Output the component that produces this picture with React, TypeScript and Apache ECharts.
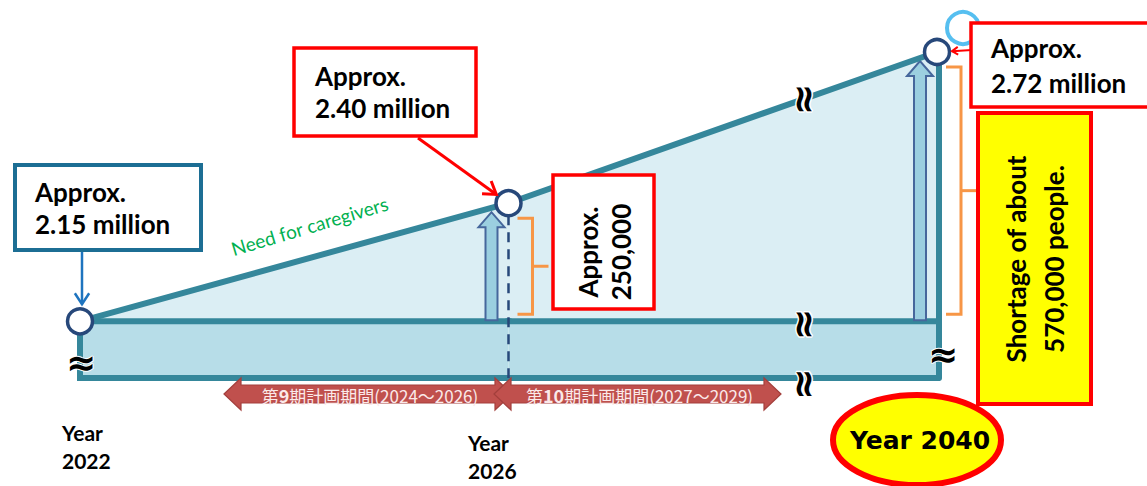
import React, { useEffect, useRef } from 'react';
import * as echarts from 'echarts';

// ---------------- data ----------------
const years = ['2022', '2026', '2040'];
const need = [215, 240, 272]; // need for caregivers (10,000 people)
const supply = [215, 215, 215]; // caregivers kept at the 2022 level
const needLabels = ['Approx.\n2.15 million', 'Approx.\n2.40 million', 'Approx.\n2.72 million'];
const gapLabels = ['', 'Approx.\n250,000', 'Shortage of about\n570,000 people.'];
const yearLabels = ['Year\n2022', 'Year\n2026', 'Year 2040'];
const planNos = ['9', '10'];
const planRanges = ['(2024～2026)', '(2027～2029)'];
const lineName = 'Need for caregivers';
const breakMark = '≈';

// ---------------- styles ----------------
const TEAL = '#35879b';
const NAVY = '#27487a';
const ORANGE = '#f79646';
const RED = '#ff0000';
const LATO = 'Lato';

function arrowEls(x1: number, y1: number, x2: number, y2: number, color: string, lw: number, head: number, z: number) {
  const dx = x2 - x1, dy = y2 - y1;
  const len = Math.sqrt(dx * dx + dy * dy) || 1;
  const ux = dx / len, uy = dy / len;
  const nx = -uy, ny = ux;
  const bx = x2 - ux * head, by = y2 - uy * head;
  return [
    { type: 'line', z, shape: { x1, y1, x2, y2 }, style: { stroke: color, lineWidth: lw } },
    {
      type: 'polyline', z,
      shape: { points: [[bx + nx * head * 0.65, by + ny * head * 0.65], [x2, y2], [bx - nx * head * 0.65, by - ny * head * 0.65]] },
      style: { stroke: color, lineWidth: lw, fill: 'none' },
    },
  ];
}

function doubleArrow(x1: number, x2: number, cy: number, z: number) {
  const H = 16, B = 9, h = 17;
  return {
    type: 'polygon', z,
    shape: {
      points: [
        [x1, cy], [x1 + h, cy - H], [x1 + h, cy - B], [x2 - h, cy - B], [x2 - h, cy - H],
        [x2, cy], [x2 - h, cy + H], [x2 - h, cy + B], [x1 + h, cy + B], [x1 + h, cy + H],
      ],
    },
    style: { fill: '#c0504d', stroke: '#a33f3c', lineWidth: 1.2 },
  };
}

function text(x: number, y: number, t: string, size: number, opts: any = {}) {
  return {
    type: 'text', x, y, z: opts.z ?? 30, rotation: opts.rotation ?? 0,
    style: {
      text: t, fill: opts.fill ?? '#000', fontSize: size, fontWeight: opts.weight ?? 'bold',
      fontFamily: opts.family ?? LATO, align: opts.align ?? 'left', verticalAlign: 'middle',
      lineHeight: opts.lineHeight ?? size * 1.3, stroke: opts.stroke, lineWidth: opts.strokeWidth,
    },
  };
}

function buildOption() {
  return {
    animation: false,
    grid: { left: 80, right: 210, top: 52, height: 326 },
    xAxis: { type: 'category', data: years, boundaryGap: false, show: false },
    yAxis: { type: 'value', min: 203, max: 272, show: false },
    series: [
      {
        name: 'need-area', type: 'line', data: need, z: 1, symbol: 'none', silent: true,
        lineStyle: { width: 0 }, areaStyle: { origin: supply[0], color: '#dbeef4', opacity: 1 },
      },
      {
        name: 'supply', type: 'custom', z: 2, silent: true,
        data: supply.map((v, i) => [i, v]), encode: { x: 0, y: 1 },
        renderItem: (params: any, api: any) => {
          const i = api.value(0);
          const cs = params.coordSys;
          const bottom = cs.y + cs.height;
          const p = api.coord([i, api.value(1)]);
          const children: any[] = [];
          if (i < supply.length - 1) {
            const q = api.coord([i + 1, supply[i + 1]]);
            children.push({ type: 'polygon', shape: { points: [[p[0], p[1]], [q[0], q[1]], [q[0], bottom], [p[0], bottom]] }, style: { fill: '#b7dde8' } });
            children.push({ type: 'line', shape: { x1: p[0], y1: p[1], x2: q[0], y2: q[1] }, style: { stroke: TEAL, lineWidth: 6, lineCap: 'square' } });
            children.push({ type: 'line', shape: { x1: p[0], y1: bottom, x2: q[0], y2: bottom }, style: { stroke: TEAL, lineWidth: 6, lineCap: 'square' } });
          }
          if (i === 0) {
            children.push({ type: 'line', shape: { x1: p[0], y1: p[1], x2: p[0], y2: bottom }, style: { stroke: TEAL, lineWidth: 6, lineCap: 'square' } });
          }
          return { type: 'group', children };
        },
      },
      {
        name: 'shortage', type: 'custom', z: 3, silent: true,
        data: need.map((v, i) => [i, supply[i], v]).slice(1), encode: { x: 0, y: [1, 2] },
        renderItem: (params: any, api: any) => {
          const i = api.value(0);
          const cs = params.coordSys;
          const bottom = cs.y + cs.height;
          const b = api.coord([i, api.value(1)]);
          const t = api.coord([i, api.value(2)]);
          const last = i === need.length - 1;
          const ax = t[0] - 17, tip = t[1] + 9, hl = 15, hw = 13, sw = 6, by = b[1] - 1;
          const children: any[] = [];
          if (last) {
            children.push({ type: 'line', shape: { x1: t[0] + 2, y1: t[1], x2: t[0] + 2, y2: bottom }, style: { stroke: TEAL, lineWidth: 6, lineCap: 'round' } });
          } else {
            children.push({ type: 'line', shape: { x1: t[0], y1: t[1] + 12, x2: t[0], y2: bottom }, style: { stroke: NAVY, lineWidth: 2.5, lineDash: [10, 7] } });
          }
          children.push({
            type: 'polygon',
            shape: { points: [[ax - sw, by], [ax - sw, tip + hl], [ax - hw, tip + hl], [ax, tip], [ax + hw, tip + hl], [ax + sw, tip + hl], [ax + sw, by]] },
            style: { fill: '#9bcfe0', stroke: '#46679c', lineWidth: 2 },
          });
          const bx = t[0] + 24, top = t[1] + 15, bot = b[1] - 7, hx = t[0] + 9, mid = (top + bot) / 2;
          children.push({ type: 'polyline', shape: { points: [[hx, top], [bx, top], [bx, bot], [hx, bot]] }, style: { stroke: ORANGE, lineWidth: 3, fill: 'none' } });
          children.push({ type: 'line', shape: { x1: bx, y1: mid, x2: bx + 16, y2: mid }, style: { stroke: ORANGE, lineWidth: 3 } });
          return { type: 'group', children };
        },
      },
      {
        name: lineName, type: 'line', data: need, z: 5, silent: true,
        symbol: 'circle', symbolSize: 25,
        lineStyle: { color: TEAL, width: 6 },
        itemStyle: { color: '#fff', borderColor: NAVY, borderWidth: 3.5 },
        emphasis: { disabled: true },
      },
    ],
  };
}

function buildGraphics(px: (i: number, v: number) => number[]) {
  const p = need.map((v, i) => px(i, v));
  const base = px(0, supply[0]);
  const bottomY = px(0, 203)[1];
  const els: any[] = [];

  // ---- boxes ----
  els.push({ type: 'rect', z: 20, shape: { x: 15, y: 165, width: 186, height: 85 }, style: { fill: '#fff', stroke: '#1c6e94', lineWidth: 4 } });
  els.push(text(35, 208, needLabels[0], 26, { lineHeight: 32 }));
  els.push(...arrowEls(p[0][0] + 2, 252, p[0][0] + 2, p[0][1] - 17, '#1e74bf', 2.5, 11, 21));

  els.push({ type: 'rect', z: 20, shape: { x: 294, y: 48, width: 182, height: 88 }, style: { fill: '#fff', stroke: RED, lineWidth: 3.5 } });
  els.push(text(315, 92, needLabels[1], 26, { lineHeight: 32 }));
  {
    const sx = 418, sy = 138;
    const dx = p[1][0] - sx, dy = p[1][1] - sy, l = Math.sqrt(dx * dx + dy * dy);
    els.push(...arrowEls(sx, sy, p[1][0] - (dx / l) * 15, p[1][1] - (dy / l) * 15, RED, 3, 12, 21));
  }

  els.push({ type: 'rect', z: 20, shape: { x: 553, y: 175, width: 101, height: 134 }, style: { fill: '#fff', stroke: RED, lineWidth: 3.5 } });
  els.push(text(604, 252, gapLabels[1], 26, { align: 'center', rotation: Math.PI / 2, lineHeight: 33 }));

  // highlight circle + 2040 box
  els.push({ type: 'circle', z: 19, shape: { cx: 963, cy: 28, r: 16 }, style: { fill: 'none', stroke: '#56bff0', lineWidth: 4 } });
  {
    const sx = 972, sy = 50;
    const dx = p[2][0] - sx, dy = p[2][1] - sy, l = Math.sqrt(dx * dx + dy * dy);
    els.push(...arrowEls(sx, sy, p[2][0] - (dx / l) * 15, p[2][1] - (dy / l) * 15, RED, 2, 6, 19));
  }
  els.push({ type: 'rect', z: 20, shape: { x: 971, y: 23, width: 200, height: 84 }, style: { fill: '#fff', stroke: RED, lineWidth: 3.5 } });
  els.push(text(991, 65, needLabels[2], 26, { lineHeight: 35 }));

  els.push({ type: 'rect', z: 20, shape: { x: 978, y: 113, width: 113, height: 291 }, style: { fill: '#ffff00', stroke: RED, lineWidth: 4 } });
  els.push(text(1035, 259, gapLabels[2], 26, { align: 'center', rotation: Math.PI / 2, lineHeight: 38 }));

  // ---- line label ----
  {
    const a = Math.atan2(p[0][1] - p[1][1], p[1][0] - p[0][0]);
    const t = 0.555;
    const mx = p[0][0] + (p[1][0] - p[0][0]) * t;
    const my = p[0][1] + (p[1][1] - p[0][1]) * t;
    const off = 31;
    els.push(text(mx - Math.sin(a) * off, my - Math.cos(a) * off, lineName, 19, { align: 'center', rotation: a + 0.02, weight: 'normal', fill: '#00b050' }));
  }

  // ---- break marks ----
  const bxm = 803;
  const tt = (bxm - p[1][0]) / (p[2][0] - p[1][0]);
  const topY = p[1][1] + (p[2][1] - p[1][1]) * tt;
  [topY, base[1] + 3, bottomY + 6].forEach((y) => {
    els.push(text(bxm, y, breakMark, 38, { align: 'center', rotation: Math.PI / 2, weight: 'bold', family: 'DejaVu Sans', stroke: '#fff', strokeWidth: 3, z: 25 }));
  });
  els.push(text(p[0][0] + 1, 362, breakMark, 36, { align: 'center', weight: 'bold', family: 'DejaVu Sans', stroke: '#fff', strokeWidth: 2, z: 25 }));
  els.push(text(p[2][0] + 6, 354, breakMark, 36, { align: 'center', weight: 'bold', family: 'DejaVu Sans', stroke: '#fff', strokeWidth: 2, z: 25 }));

  // ---- plan period arrows ----
  const cy = 394;
  const spans = [[224, 512], [494, 781]];
  spans.forEach(([x1, x2], k) => {
    els.push(doubleArrow(x1, x2, cy, 15 + k));
    els.push({
      type: 'text', x: (x1 + x2) / 2 + 2, y: cy + 1, z: 17 + k,
      style: {
        text: `{n|第}{b|${planNos[k]}}{n|期計画期間${planRanges[k]}}`,
        align: 'center', verticalAlign: 'middle',
        rich: {
          n: { fill: '#fbe9e9', fontSize: 17, fontFamily: '"Noto Sans CJK JP"', fontWeight: 'normal' },
          b: { fill: '#fbe9e9', fontSize: 18, fontFamily: '"Noto Sans CJK JP"', fontWeight: 'bold' },
        },
      },
    });
  });

  // ---- year labels ----
  els.push(text(62, 446, yearLabels[0], 21, { lineHeight: 28 }));
  els.push(text(468, 456, yearLabels[1], 21, { lineHeight: 28 }));
  els.push({ type: 'ellipse', z: 22, shape: { cx: 917, cy: 440, rx: 84, ry: 45 }, style: { fill: '#ffff00', stroke: RED, lineWidth: 6 } });
  els.push(text(920, 440, yearLabels[2], 25, { align: 'center', family: 'DejaVu Sans', z: 23 }));

  return els;
}

export default function App() {
  const ref = useRef<HTMLDivElement>(null);
  useEffect(() => {
    const chart = echarts.init(ref.current!, null, { renderer: 'svg' });
    chart.setOption(buildOption() as any);
    const px = (i: number, v: number) => chart.convertToPixel({ gridIndex: 0 }, [years[i], v]) as number[];
    chart.setOption({ graphic: buildGraphics(px) } as any);
    return () => chart.dispose();
  }, []);
  return <div ref={ref} style={{ position: 'absolute', left: 0, top: 0, width: 1147, height: 486 }} />;
}
